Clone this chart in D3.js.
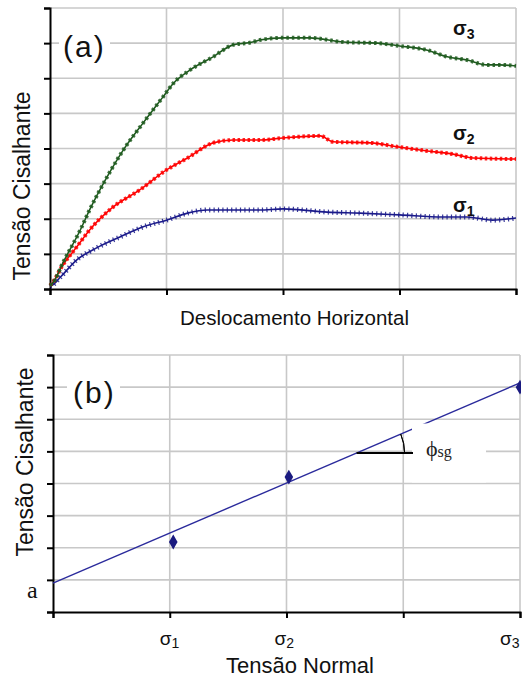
<!DOCTYPE html>
<html><head><meta charset="utf-8">
<script src="https://cdn.jsdelivr.net/npm/d3@7"></script>
<style>body{margin:0;background:#fff}svg{display:block}</style>
</head><body>
<svg id="c" width="523" height="679"></svg>
<script>
// ---- Panel (a) data: horizontal displacement (grid units) vs shear stress (grid units)
const s3X = [0, 0.03, 0.11, 0.26, 0.34, 0.49, 0.63, 0.80, 0.97, 1.06, 1.20, 1.40, 1.57, 1.74, 1.80, 2.00, 2.23, 2.52, 2.81, 3.00, 3.24, 3.41, 3.58, 3.75, 3.86, 4.0];
const s3Y = [0.1, 0.20, 0.74, 1.68, 2.25, 3.19, 3.96, 4.73, 5.47, 5.86, 6.23, 6.61, 6.95, 7.03, 7.09, 7.15, 7.15, 7.03, 7.00, 6.92, 6.80, 6.61, 6.52, 6.38, 6.38, 6.35];
const s2X = [0, 0.02, 0.10, 0.23, 0.34, 0.54, 0.77, 1.00, 1.18, 1.40, 1.57, 1.80, 2.00, 2.32, 2.43, 2.75, 3.00, 3.24, 3.46, 3.63, 4.0];
const s2Y = [0.1, 0.17, 0.63, 1.20, 1.68, 2.33, 2.82, 3.39, 3.73, 4.16, 4.24, 4.24, 4.30, 4.36, 4.19, 4.16, 4.04, 3.93, 3.84, 3.73, 3.70];
const s1X = [0, 0.02, 0.09, 0.23, 0.40, 0.60, 0.80, 1.00, 1.18, 1.35, 1.57, 1.80, 2.00, 2.38, 2.66, 3.00, 3.37, 3.58, 3.80, 4.0];
const s1Y = [0.08, 0.11, 0.34, 0.83, 1.17, 1.48, 1.77, 1.96, 2.16, 2.25, 2.25, 2.25, 2.28, 2.19, 2.16, 2.11, 2.05, 2.05, 1.96, 2.02];
const aXTicks = [0, 1, 2, 3, 4];
const aYTicks = [0, 1, 2, 3, 4, 5, 6, 7, 8];
const seriesNames = ["σ1", "σ2", "σ3"];
const seriesLabelY = [2.19, 4.24, 7.23];

// ---- Panel (b) data: normal stress vs peak shear stress
const normalStress = [1.03, 2.02, 4.0];
const peakShear = [2.18, 4.20, 7.0];
const fitX = [0, 4];
const fitY = [0.9, 7.13];
const bXTicks = [0, 1, 2, 3, 4];
const bYTicks = [0, 1, 2, 3, 4, 5, 6, 7, 8];
const bTickLabels = [{v: 1, t: "σ", s: "1", dx: -10}, {v: 2, t: "σ", s: "2", dx: -12}, {v: 4, t: "σ", s: "3", dx: -20}];

const svg = d3.select("#c");
const SANS = "'Liberation Sans', Arial, sans-serif";
const SERIF = "'Liberation Serif', 'Times New Roman', 'DejaVu Serif', serif";
const GRID = "#c8c8c8";

function frame(g, x, y, xt, yt) {
  const [x0, x1] = x.range(), [y0, y1] = y.range();
  g.append("g").selectAll("line").data(yt.slice(1)).join("line")
    .attr("x1", x0).attr("x2", x1).attr("y1", d => y(d)).attr("y2", d => y(d))
    .attr("stroke", GRID).attr("stroke-width", 1.6);
  g.append("g").selectAll("line").data(xt.slice(1)).join("line")
    .attr("x1", d => x(d)).attr("x2", d => x(d)).attr("y1", y0).attr("y2", y1)
    .attr("stroke", GRID).attr("stroke-width", 1.6);
  const la = g.append("g").attr("transform", `translate(${x0},0)`)
    .call(d3.axisLeft(y).tickValues(yt).tickSize(6).tickFormat(""));
  la.select(".domain").attr("stroke", "#000").attr("stroke-width", 2);
  la.selectAll(".tick line").attr("stroke", "#000").attr("stroke-width", 2);
  const ba = g.append("g").attr("transform", `translate(0,${y0})`)
    .call(d3.axisBottom(x).tickValues(xt).tickSize(6).tickFormat(""));
  ba.select(".domain").attr("stroke", "#000").attr("stroke-width", 2);
  ba.selectAll(".tick line").attr("stroke", "#000").attr("stroke-width", 2);
}

// ================= Panel (a)
const xa = d3.scaleLinear().domain([0, 4]).range([50, 516]);
const ya = d3.scaleLinear().domain([0, 8]).range([289, 8]);
const ga = svg.append("g");
frame(ga, xa, ya, aXTicks, aYTicks);

ga.append("rect").attr("x", 59).attr("y", 32).attr("width", 51).attr("height", 34).attr("fill", "#fff");
ga.append("text").attr("x", 63).attr("y", 57).attr("font-family", SANS).attr("font-size", 30)
  .attr("letter-spacing", 2).attr("fill", "#111").text("(a)");

const lineA = d3.line().x(d => xa(d[0])).y(d => ya(d[1])).curve(d3.curveMonotoneX);
const series = [
  {x: s1X, y: s1Y, c: "#1a1a8a", dash: "1.2 3.2", mw: 5},
  {x: s2X, y: s2Y, c: "#ff0000", dash: "2.5 2.5", mw: 4},
  {x: s3X, y: s3Y, c: "#1e5a1e", dash: "2.5 3", mw: 4}
];
series.forEach(s => {
  const pts = s.x.map((v, i) => [v, s.y[i]]);
  ga.append("path").attr("d", lineA(pts)).attr("fill", "none")
    .attr("stroke", s.c).attr("stroke-width", 1.6);
  ga.append("path").attr("d", lineA(pts)).attr("fill", "none")
    .attr("stroke", s.c).attr("stroke-width", s.mw).attr("stroke-dasharray", s.dash).attr("opacity", 0.85);
});

seriesNames.forEach((n, i) => {
  const t = ga.append("text").attr("x", 453).attr("y", ya(seriesLabelY[i]))
    .attr("font-family", SANS).attr("font-size", 20).attr("font-weight", "bold").attr("fill", "#111");
  t.append("tspan").text(n[0]);
  t.append("tspan").attr("font-size", 14).attr("dy", 4).text(n.slice(1));
});

svg.append("text").attr("x", 180).attr("y", 325).attr("font-family", SANS).attr("font-size", 20.5)
  .attr("fill", "#111").text("Deslocamento Horizontal");
svg.append("text").attr("transform", "translate(30,186) rotate(-90)").attr("text-anchor", "middle")
  .attr("font-family", SANS).attr("font-size", 23).attr("fill", "#111").text("Tensão Cisalhante");

// ================= Panel (b)
const xb = d3.scaleLinear().domain([0, 4]).range([53, 520]);
const yb = d3.scaleLinear().domain([0, 8]).range([612, 355]);
const gb = svg.append("g");
frame(gb, xb, yb, bXTicks, bYTicks);

svg.append("defs").append("clipPath").attr("id", "clipb").append("rect")
  .attr("x", 53).attr("y", 355).attr("width", 468).attr("height", 257);

gb.append("rect").attr("x", 67).attr("y", 376).attr("width", 53).attr("height", 36).attr("fill", "#fff");
gb.append("text").attr("x", 73).attr("y", 403).attr("font-family", SANS).attr("font-size", 30)
  .attr("letter-spacing", 2).attr("fill", "#111").text("(b)");

const lineB = d3.line().x(d => xb(d[0])).y(d => yb(d[1]));
gb.append("path").attr("d", lineB(fitX.map((v, i) => [v, fitY[i]])))
  .attr("fill", "none").attr("stroke", "#2b2b9c").attr("stroke-width", 1.4);

gb.append("g").attr("clip-path", "url(#clipb)").selectAll("path").data(normalStress).join("path")
  .attr("d", d3.symbol(d3.symbolDiamond, 64))
  .attr("transform", (d, i) => `translate(${xb(d)},${yb(peakShear[i])})`)
  .attr("fill", "#1a1a80");

// phi_sg annotation
gb.append("rect").attr("x", 412).attr("y", 423.5).attr("width", 74).attr("height", 59).attr("fill", "#fff");
const slope = (fitY[1] - fitY[0]) / (fitX[1] - fitX[0]);
const yRef = 4.95;
const xVert = (yRef - fitY[0]) / slope;
const vx = xb(xVert), vy = yb(yRef);
gb.append("line").attr("x1", vx).attr("x2", 413).attr("y1", vy).attr("y2", vy)
  .attr("stroke", "#000").attr("stroke-width", 2);
const ang = Math.atan2(yb(fitY[0]) - yb(fitY[1]), xb(fitX[1]) - xb(fitX[0]));
const R = 48;
gb.append("path").attr("d", d3.arc()({innerRadius: R, outerRadius: R, startAngle: Math.PI / 2 - ang, endAngle: Math.PI / 2}))
  .attr("transform", `translate(${vx},${vy})`).attr("fill", "none").attr("stroke", "#000").attr("stroke-width", 1);
const phi = gb.append("text").attr("x", 426).attr("y", 456).attr("font-family", SERIF).attr("font-size", 22).attr("fill", "#222");
phi.append("tspan").text("ϕ");
phi.append("tspan").attr("font-size", 16).attr("dy", 1).text("sg");

svg.append("text").attr("x", 27).attr("y", 598).attr("font-family", SERIF).attr("font-size", 24)
  .attr("fill", "#111").text("a");

bTickLabels.forEach(d => {
  const t = svg.append("text").attr("x", xb(d.v) + d.dx).attr("y", 645)
    .attr("font-family", SANS).attr("font-size", 19).attr("fill", "#111");
  t.append("tspan").text(d.t);
  t.append("tspan").attr("font-size", 14).attr("dy", 3).text(d.s);
});

svg.append("text").attr("x", 300).attr("y", 673).attr("text-anchor", "middle")
  .attr("font-family", SANS).attr("font-size", 22).attr("fill", "#111").text("Tensão Normal");
svg.append("text").attr("transform", "translate(33,462) rotate(-90)").attr("text-anchor", "middle")
  .attr("font-family", SANS).attr("font-size", 23).attr("fill", "#111").text("Tensão Cisalhante");
</script>
</body></html>
